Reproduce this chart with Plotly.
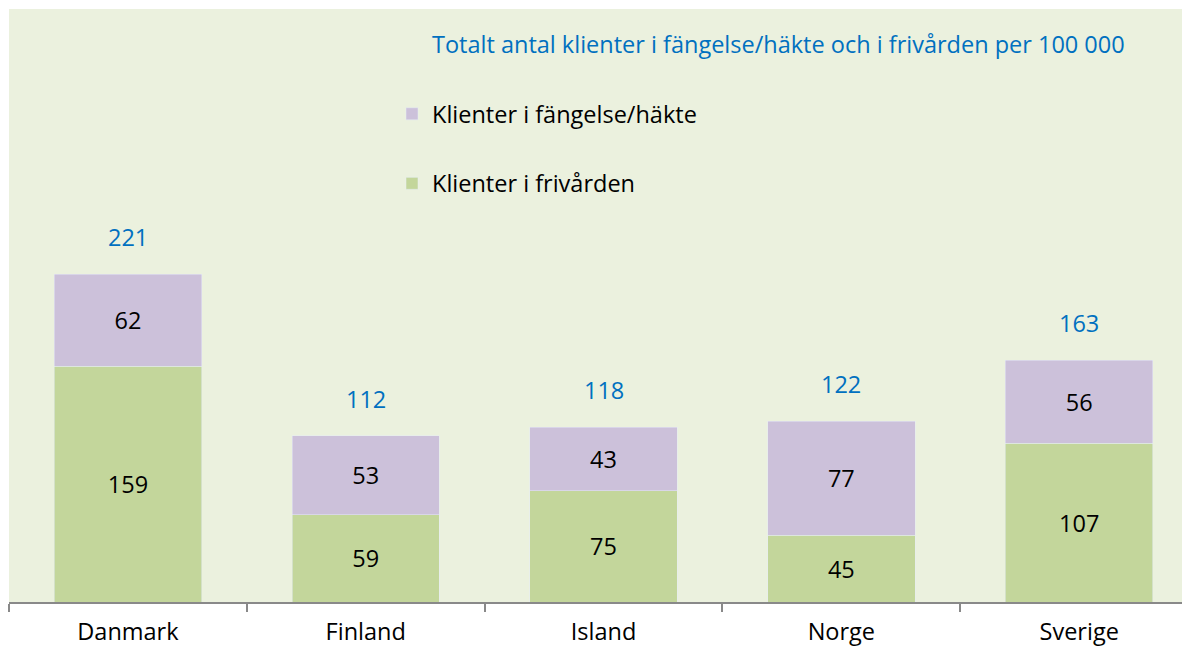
import plotly.graph_objects as go

# data
countries = ["Danmark", "Finland", "Island", "Norge", "Sverige"]
frivarden = [159, 59, 75, 45, 107]
fangelse = [62, 53, 43, 77, 56]
totals = [a + b for a, b in zip(frivarden, fangelse)]

FONT = "Open Sans"
FS = 23.5
BLUE = "#0070C0"
GREEN = "#C3D69B"
PURPLE = "#CCC1DA"

# the page body has an 8px margin, so the figure is 8px smaller each way
W, H = 1182, 641

fig = go.Figure()

fig.add_trace(
    go.Bar(
        name="Klienter i frivården",
        x=countries,
        y=frivarden,
        marker_color=GREEN,
        text=frivarden,
        textposition="inside",
        insidetextanchor="middle",
        textangle=0,
        textfont=dict(color="black", size=FS, family=FONT),
        legendgroup="g1",
        legendrank=2,
    )
)
fig.add_trace(
    go.Bar(
        name="Klienter i fängelse/häkte",
        x=countries,
        y=fangelse,
        marker_color=PURPLE,
        text=fangelse,
        textposition="inside",
        insidetextanchor="middle",
        textangle=0,
        textfont=dict(color="black", size=FS, family=FONT),
        legendgroup="g2",
        legendrank=1,
    )
)

# totals above the stacks
for c, t in zip(countries, totals):
    fig.add_annotation(
        x=c, y=t, text=str(t), showarrow=False, yshift=37,
        font=dict(color=BLUE, size=FS, family=FONT),
    )

fig.update_layout(
    width=W,
    height=H,
    barmode="stack",
    bargap=0.38,
    paper_bgcolor="white",
    plot_bgcolor="#EBF1DE",
    margin=dict(l=1, r=0, t=1, b=47, autoexpand=False),
    font=dict(family=FONT, size=FS, color="black"),
    title=dict(
        text="Totalt antal klienter i fängelse/häkte och i frivården per 100 000",
        font=dict(color=BLUE, size=FS, family=FONT),
        xref="container", yref="container",
        x=424 / W, xanchor="left",
        y=1 - 37 / H, yanchor="middle",
    ),
    legend=dict(
        x=383 / 1181, xanchor="left",
        y=1 - 83 / 593, yanchor="top",
        traceorder="grouped",
        tracegroupgap=36,
        bgcolor="rgba(0,0,0,0)",
        font=dict(size=FS, family=FONT, color="black"),
    ),
    xaxis=dict(
        range=[-0.5, 4.466],
        automargin=False,
        showline=True,
        linecolor="#898989",
        linewidth=1.5,
        ticks="outside",
        tickson="boundaries",
        ticklen=8,
        tickcolor="#898989",
        tickwidth=1.5,
        ticklabelstandoff=8,
        tickfont=dict(size=FS, family=FONT, color="black"),
        showgrid=False,
    ),
    yaxis=dict(
        range=[0, 400],
        visible=False,
        showgrid=False,
        zeroline=False,
    ),
)

fig.write_html("out.html")
